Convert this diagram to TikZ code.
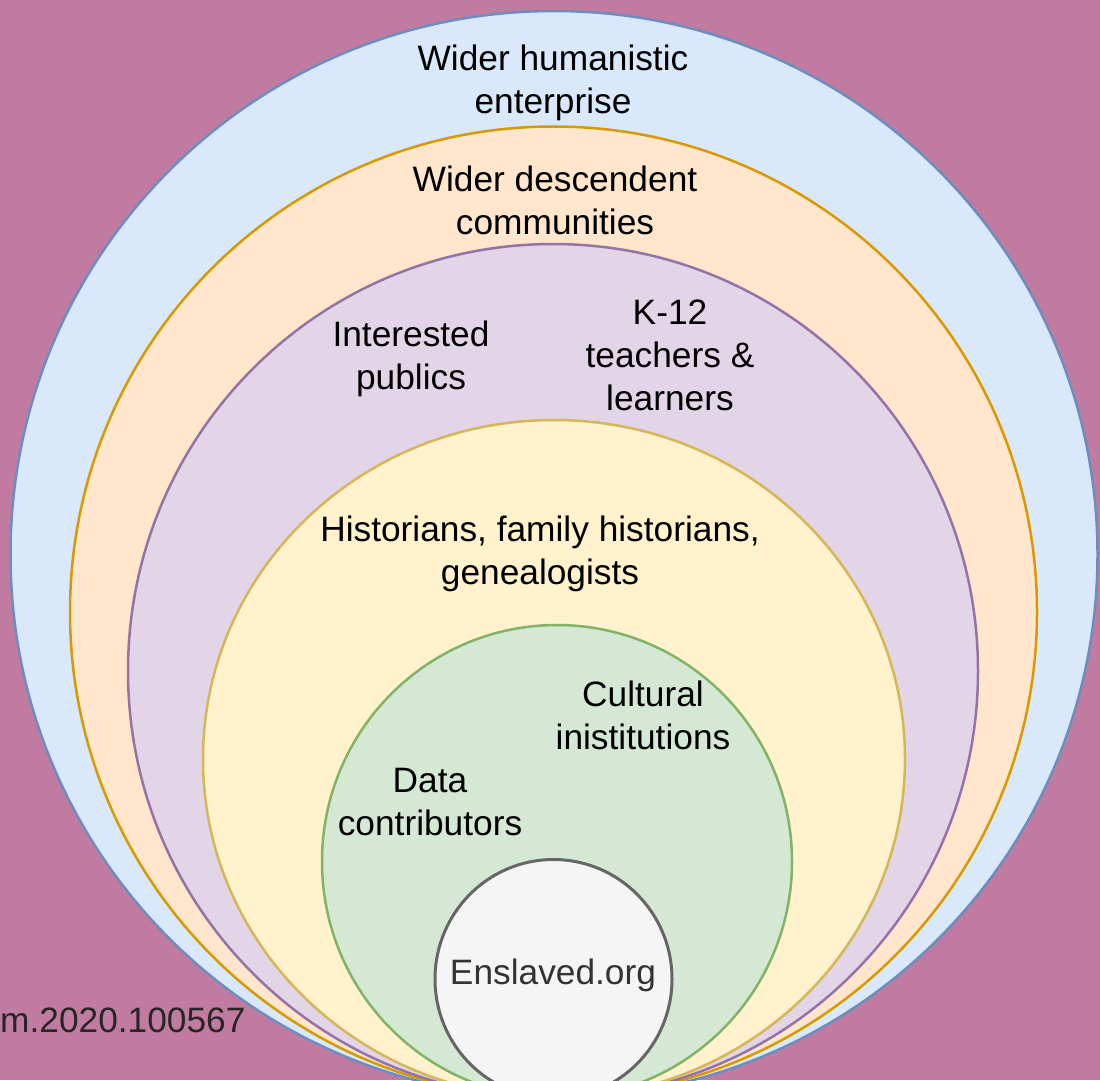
\documentclass[tikz,border=0pt]{standalone}
\usepackage{fontspec}
\setmainfont{Liberation Sans}
\usetikzlibrary{shapes.geometric}
\definecolor{bgMauve}{HTML}{C27BA0}
\definecolor{blueFill}{HTML}{DAE8FC}
\definecolor{blueLine}{HTML}{6C8EBF}
\definecolor{orangeFill}{HTML}{FFE6CC}
\definecolor{orangeLine}{HTML}{D79B00}
\definecolor{purpleFill}{HTML}{E1D5E7}
\definecolor{purpleLine}{HTML}{9673A6}
\definecolor{yellowFill}{HTML}{FFF2CC}
\definecolor{yellowLine}{HTML}{D6B656}
\definecolor{greenFill}{HTML}{D5E8D4}
\definecolor{greenLine}{HTML}{82B366}
\definecolor{greyFill}{HTML}{F5F5F5}
\definecolor{greyLine}{HTML}{666666}
\definecolor{greyText}{HTML}{333333}
\begin{document}
\begin{tikzpicture}[x=1pt,y=-1pt,
  ring/.style={ellipse, inner sep=0pt, outer sep=0pt, line width=2.5pt},
  lbl/.style={align=center, font=\fontsize{35.3}{43}\selectfont, text=black}]
\clip (0,0) rectangle (1100,1080);
\fill [bgMauve] (0,0) rectangle (1100,1080);
% rings, outer to inner
\node [ring, fill=blueFill, draw=blueLine, minimum width=1087pt, minimum height=1087pt] (humanistic) at (554,554.5) {};
\node [ring, fill=orangeFill, draw=orangeLine, minimum width=967pt, minimum height=971pt] (descendent) at (553.5,612) {};
\node [ring, fill=purpleFill, draw=purpleLine, minimum width=850pt, minimum height=854pt] (publics) at (553,671) {};
\node [ring, fill=yellowFill, draw=yellowLine, minimum width=702pt, minimum height=678pt] (historians) at (554,759) {};
\node [ring, fill=greenFill, draw=greenLine, minimum width=470pt, minimum height=473pt] (contributors) at (557,861.5) {};
\node [ring, fill=greyFill, draw=greyLine, line width=3pt, minimum width=237pt, minimum height=239pt] (enslaved) at (553.5,979) {};
% labels
\node [lbl] (humanisticText) at (553,83) {Wider humanistic\\enterprise};
\node [lbl] (descendentText) at (555,200) {Wider descendent\\communities};
\node [lbl] (publicsText) at (411,359) {Interested\\publics};
\node [lbl] (teachersText) at (670,355) {K-12\\teachers \&\\learners};
\node [lbl] (historiansText) at (540,554) {Historians, family historians,\\genealogists};
\node [lbl] (institutionsText) at (643,715) {Cultural\\inistitutions};
\node [lbl] (contributorsText) at (430,802) {Data\\contributors};
\node [lbl, text=greyText] (enslavedText) at (553,975) {Enslaved.org};
\node [lbl, anchor=west, text=black!85, inner sep=0pt] (doiText) at (0,1020) {m.2020.100567};
\end{tikzpicture}
\end{document}
